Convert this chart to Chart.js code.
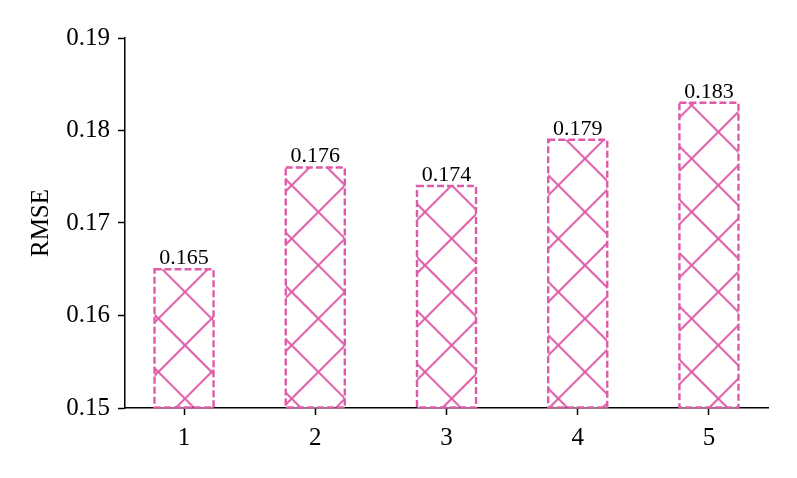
<!DOCTYPE html>
<html>
<head>
<meta charset="utf-8">
<script src="https://cdn.jsdelivr.net/npm/chart.js@4"></script>
<style>
  html, body { margin: 0; padding: 0; background: #ffffff; }
  #wrap { width: 797px; height: 478px; }
</style>
</head>
<body>
<div id="wrap"><canvas id="rmse-chart"></canvas></div>
<script>
// data
const categories = [1, 2, 3, 4, 5];
const rmseValues = [0.165, 0.176, 0.174, 0.179, 0.183];
const yTicks = [0.15, 0.16, 0.17, 0.18, 0.19];

const PINK = "#de5ba8";
const FONT = "'Liberation Serif', 'Times New Roman', serif";

// crosshatch tile, like matplotlib's 'x' hatch (square cells, 45 deg lines)
function makeHatch(ctx) {
  const size = 160;           // 3 cells
  const step = size / 3;
  const tile = document.createElement("canvas");
  tile.width = size;
  tile.height = size;
  const t = tile.getContext("2d");
  t.fillStyle = "#ffffff";
  t.fillRect(0, 0, size, size);
  t.strokeStyle = PINK;
  t.lineWidth = 2;
  t.beginPath();
  for (let k = -6; k <= 6; k++) {
    const o = k * step;
    t.moveTo(o - size, -size);
    t.lineTo(o + 2 * size, 2 * size);
    t.moveTo(o - size, 2 * size);
    t.lineTo(o + 2 * size, -size);
  }
  t.stroke();
  const pattern = ctx.createPattern(tile, "repeat");
  pattern.setTransform(new DOMMatrix().translate(25, 25.3));
  return pattern;
}

// dashed outline + value text on each bar
const barDecor = {
  id: "barDecor",
  afterDatasetsDraw(chart) {
    const { ctx } = chart;
    const meta = chart.getDatasetMeta(0);
    meta.data.forEach((bar, i) => {
      const left = bar.x - bar.width / 2;
      const right = bar.x + bar.width / 2;
      ctx.save();
      ctx.strokeStyle = PINK;
      ctx.lineWidth = 2.4;
      ctx.setLineDash([7, 3]);
      ctx.strokeRect(left, bar.y, right - left, bar.base - bar.y);
      ctx.restore();

      ctx.save();
      ctx.fillStyle = "#000000";
      ctx.font = "22px " + FONT;
      ctx.textAlign = "center";
      ctx.textBaseline = "bottom";
      ctx.fillText(rmseValues[i].toFixed(3), bar.x, bar.y);
      ctx.restore();
    });
  },
};

document.addEventListener("DOMContentLoaded", () => {
  const ctx = document.getElementById("rmse-chart").getContext("2d");

  new Chart(ctx, {
    type: "bar",
    data: {
      datasets: [
        {
          data: categories.map((c, i) => ({ x: c, y: rmseValues[i] })),
          backgroundColor: makeHatch(ctx),
          borderWidth: 0,
          base: 0.15,
          barPercentage: 0.45,
          categoryPercentage: 1,
        },
      ],
    },
    options: {
      responsive: true,
      maintainAspectRatio: false,
      animation: false,
      layout: { padding: { top: 38, right: 29, left: 0, bottom: 0 } },
      plugins: {
        legend: { display: false },
        tooltip: { enabled: false },
      },
      scales: {
        x: {
          type: "linear",
          min: 0.55,
          max: 5.45,
          offset: false,
          afterBuildTicks: (axis) => {
            axis.ticks = categories.map((v) => ({ value: v }));
          },
          afterFit: (axis) => {
            axis.height = 70;
          },
          grid: {
            offset: false,
            drawOnChartArea: false,
            drawTicks: true,
            tickLength: 7,
            tickColor: "#000000",
            tickWidth: 1.5,
          },
          border: { color: "#000000", width: 1.5 },
          ticks: {
            color: "#000000",
            font: { family: FONT, size: 25 },
            padding: 8,
            maxRotation: 0,
            callback: (v) => String(v),
          },
        },
        y: {
          min: 0.15,
          max: 0.19,
          afterBuildTicks: (axis) => {
            axis.ticks = yTicks.map((v) => ({ value: v }));
          },
          afterFit: (axis) => {
            axis.width = 125;
          },
          grid: {
            drawOnChartArea: false,
            drawTicks: true,
            tickLength: 7,
            tickColor: "#000000",
            tickWidth: 1.5,
          },
          border: { color: "#000000", width: 1.5 },
          ticks: {
            color: "#000000",
            font: { family: FONT, size: 25 },
            padding: 8,
            callback: (v) => Number(v).toFixed(2),
          },
          title: {
            display: true,
            text: "RMSE",
            color: "#000000",
            font: { family: FONT, size: 25 },
            padding: { top: 26, bottom: 0 },
          },
        },
      },
    },
    plugins: [barDecor],
  });
});
</script>
</body>
</html>
